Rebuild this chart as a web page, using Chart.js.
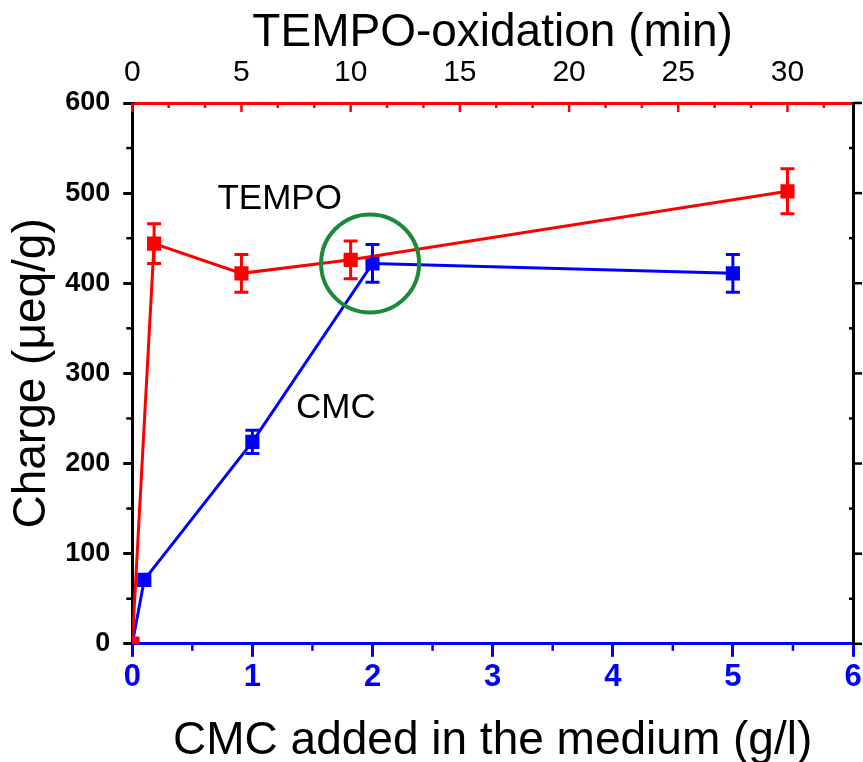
<!DOCTYPE html>
<html>
<head>
<meta charset="utf-8">
<script src="https://cdn.jsdelivr.net/npm/chart.js@4.4.1/dist/chart.umd.min.js"></script>
<style>
  body { margin: 0; background: #fff; }
  #wrap { width: 863px; height: 762px; }
</style>
</head>
<body>
<div id="wrap"><canvas id="chargeChart" width="863" height="762"></canvas></div>
<script>
// TEMPO oxidation time (min) -> charge
const tempoTime = [0, 1, 5, 10, 30];
const tempoCharge = [0, 444, 411, 426, 502];
const tempoErr = [0, 22, 21, 21, 25];

// CMC added (g/l) -> charge
const cmcConc = [0, 0.1, 1, 2, 5];
const cmcCharge = [0, 71, 224, 422, 411];
const cmcErr = [0, 0, 13, 21, 21];

const chargeTicks = [0, 100, 200, 300, 400, 500, 600];

const FONT = "'Liberation Sans', Arial, sans-serif";
const RED = "#ff0000";
const BLUE = "#0000ff";

document.addEventListener("DOMContentLoaded", () => {
  const ctx = document.getElementById("chargeChart").getContext("2d");

  const toPoints = (xs, ys) => xs.map((x, i) => ({ x: x, y: ys[i] }));

  // error bars, minor ticks, circle and in-plot labels
  const extras = {
    id: "extras",
    afterDatasetsDraw(chart) {
      const c = chart.ctx;
      const { x, x2, y } = chart.scales;
      const area = chart.chartArea;

      const bars = (xs, ys, errs, xs_scale, color) => {
        c.save();
        c.strokeStyle = color;
        c.lineWidth = 3;
        xs.forEach((v, i) => {
          if (!errs[i]) return;
          const px = xs_scale.getPixelForValue(v);
          const top = y.getPixelForValue(ys[i] + errs[i]);
          const bot = y.getPixelForValue(ys[i] - errs[i]);
          c.beginPath();
          c.moveTo(px, top); c.lineTo(px, bot);
          c.moveTo(px - 7, top); c.lineTo(px + 7, top);
          c.moveTo(px - 7, bot); c.lineTo(px + 7, bot);
          c.stroke();
        });
        c.restore();
      };
      bars(cmcConc, cmcCharge, cmcErr, x, BLUE);
      bars(tempoTime, tempoCharge, tempoErr, x2, RED);

      // green circle round the crossing
      c.save();
      c.strokeStyle = "#1b8a3c";
      c.lineWidth = 4;
      c.beginPath();
      c.arc(x.getPixelForValue(1.98), y.getPixelForValue(422), 49, 0, Math.PI * 2);
      c.stroke();

      c.fillStyle = "#000";
      c.textAlign = "center";
      c.textBaseline = "middle";
      c.font = "35px " + FONT;
      c.fillText("TEMPO", x.getPixelForValue(1.227), y.getPixelForValue(493));
      c.fillText("CMC", x.getPixelForValue(1.695), y.getPixelForValue(261));
      c.restore();

      // tick marks not handled by the axes themselves
      c.save();
      c.lineWidth = 2.5;
      // left minor
      c.strokeStyle = "#000";
      for (let v = 50; v < 600; v += 100) {
        const py = y.getPixelForValue(v);
        c.beginPath(); c.moveTo(area.left - 6, py); c.lineTo(area.left, py); c.stroke();
      }
      // right: major outward, minor inward
      chargeTicks.forEach((v) => {
        const py = y.getPixelForValue(v);
        c.beginPath(); c.moveTo(area.right, py); c.lineTo(area.right + 9, py); c.stroke();
      });
      for (let v = 50; v < 600; v += 100) {
        const py = y.getPixelForValue(v);
        c.beginPath(); c.moveTo(area.right - 4, py); c.lineTo(area.right, py); c.stroke();
      }
      // bottom minor
      c.strokeStyle = BLUE;
      for (let v = 0.5; v < 6; v += 1) {
        const px = x.getPixelForValue(v);
        c.beginPath(); c.moveTo(px, area.bottom); c.lineTo(px, area.bottom + 7); c.stroke();
      }
      // top: inward ticks
      c.strokeStyle = RED;
      for (let k = 0; k * 5 / 3 <= 33; k++) {
        const v = k * 5 / 3;
        const px = x2.getPixelForValue(v);
        const len = k % 3 === 0 ? 9 : 5;
        c.beginPath(); c.moveTo(px, area.top); c.lineTo(px, area.top + len); c.stroke();
      }
      c.restore();
    },
  };

  const data = {
    datasets: [
      {
        label: "TEMPO",
        data: toPoints(tempoTime, tempoCharge),
        xAxisID: "x2",
        yAxisID: "y",
        borderColor: RED,
        backgroundColor: RED,
        borderWidth: 3,
        pointStyle: "rect",
        pointRadius: 10,
        pointBorderWidth: 0,
      },
      {
        label: "CMC",
        data: toPoints(cmcConc, cmcCharge),
        xAxisID: "x",
        yAxisID: "y",
        borderColor: BLUE,
        backgroundColor: BLUE,
        borderWidth: 3,
        pointStyle: "rect",
        pointRadius: 10,
        pointBorderWidth: 0,
      },
    ],
  };

  const config = {
    type: "line",
    data: data,
    plugins: [extras],
    options: {
      responsive: false,
      animation: false,
      layout: { padding: { left: 5, right: 3, top: 10, bottom: 1 } },
      plugins: { legend: { display: false }, tooltip: { enabled: false } },
      scales: {
        x: {
          type: "linear",
          position: "bottom",
          min: 0,
          max: 6,
          afterFit: (s) => { s.paddingRight = 0; s.paddingLeft = 0; },
          border: { color: BLUE, width: 3 },
          grid: { drawOnChartArea: false, tickLength: 13, tickColor: BLUE, tickWidth: 3 },
          ticks: { stepSize: 1, color: BLUE, padding: 2, font: { family: FONT, size: 31, weight: "bold" } },
          title: {
            display: true,
            text: "CMC added in the medium (g/l)",
            color: "#000",
            font: { family: FONT, size: 46, lineHeight: 1 },
            padding: { top: 20, bottom: -3 },
          },
        },
        x2: {
          type: "linear",
          position: "top",
          min: 0,
          max: 33,
          afterFit: (s) => { s.paddingRight = 0; s.paddingLeft = 0; },
          border: { color: RED, width: 3 },
          grid: { drawOnChartArea: false, drawTicks: false },
          ticks: { stepSize: 5, includeBounds: false, color: "#000", padding: 12, font: { family: FONT, size: 30 } },
          title: {
            display: true,
            text: "TEMPO-oxidation (min)",
            color: "#000",
            font: { family: FONT, size: 46, lineHeight: 1 },
            padding: { top: 0, bottom: -13 },
          },
        },
        y: {
          position: "left",
          min: 0,
          max: 600,
          border: { color: "#000", width: 3 },
          grid: { drawOnChartArea: false, tickLength: 9, tickColor: "#000", tickWidth: 3 },
          ticks: { stepSize: 100, color: "#000", padding: 13, font: { family: FONT, size: 27, weight: "bold" } },
          title: {
            display: true,
            text: "Charge (\u03bceq/g)",
            color: "#000",
            font: { family: FONT, size: 46 },
            padding: { top: 0, bottom: -8 },
          },
        },
        y2: {
          position: "right",
          min: 0,
          max: 600,
          border: { color: "#000", width: 3 },
          grid: { drawOnChartArea: false, drawTicks: false },
          ticks: { display: false },
        },
      },
    },
  };

  const chargeChart = new Chart(ctx, config);
});
</script>
</body>
</html>
